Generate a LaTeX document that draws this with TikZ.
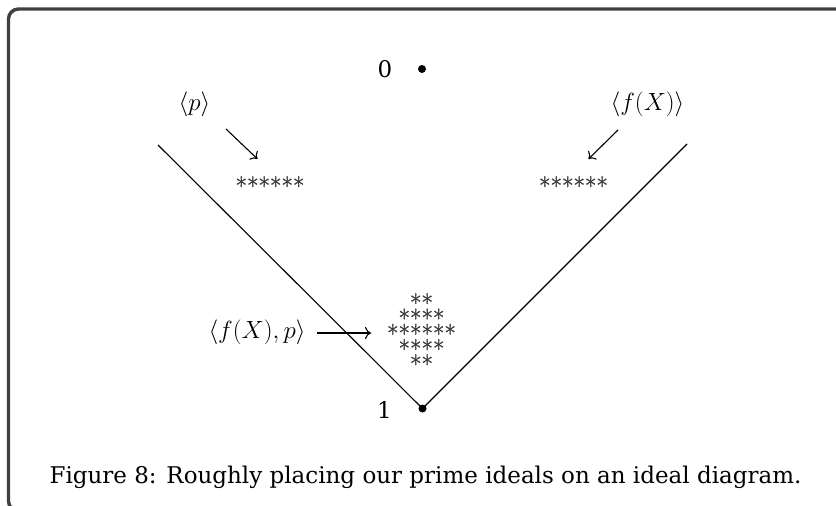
\documentclass[tikz,border=0pt]{standalone}
\usepackage{fontspec}
\setmainfont{DejaVu Serif}
\newfontfamily\starfont[FakeBold=1.2]{Latin Modern Roman}
\newcommand\tightstars{\starfont\fontsize{25}{15.3}\selectfont\lineskiplimit -50pt\relax\lineskip 0pt\relax}
\usetikzlibrary{arrows.meta}
\definecolor{framegray}{RGB}{64,64,64}
\definecolor{stargray}{RGB}{60,60,60}
\tikzset{
  thin line/.style={line width=1.1pt, black},
  pointer/.style={thin line, -{To[length=6pt,width=12pt]}},
  dot/.style={circle, fill=black, inner sep=0pt, minimum size=8pt},
  lbl/.style={inner sep=0pt, font=\fontsize{23}{28}\selectfont},
  mlbl/.style={inner sep=0pt, font=\fontsize{26}{30}\selectfont},
  stars/.style={inner sep=0pt, text=stargray, font=\tightstars},
}
\begin{document}
\begin{tikzpicture}[x=1pt,y=-1pt]
\useasboundingbox (0,0) rectangle (836,506);
% frame
\begin{scope}
\clip (0,0) rectangle (836,506);
\draw[line width=3.4pt, framegray, rounded corners=10pt] (836,9) -- (8.5,9) -- (8.5,511) -- (40,511);
\end{scope}
% points
\node[dot] (zero) at (422,69) {};
\node[dot] (one) at (422.5,408.5) {};
\node[lbl, anchor=base] (zlab) at (385,77.5) {0};
\node[lbl, anchor=base] (olab) at (384.5,418.5) {1};
% V lines
\coordinate (ltop) at (158,145);
\coordinate (rtop) at (687,144);
\draw[thin line] (ltop) -- (one.center) -- (rtop);
% labels
\node[mlbl] (p) at (194.5,104) {$\langle p\rangle$};
\node[mlbl] (fx) at (647.5,104) {$\langle f(X)\rangle$};
\node[mlbl] (fxp) at (257,332) {$\langle f(X),p\rangle$};
% star clusters
\node[stars, anchor=base] (sp) at (270,195) {******};
\node[stars, anchor=base] (sf) at (573.5,195) {******};
\node[stars, align=center, anchor=center] (cluster) at (421.5,333.2) {**\\****\\******\\****\\**};
% arrows
\coordinate (pa) at (226,129);
\coordinate (pb) at (257.5,159);
\draw[pointer] (pa) -- (pb);
\coordinate (fa) at (618,130);
\coordinate (fb) at (588.5,159);
\draw[pointer] (fa) -- (fb);
\coordinate (ga) at (317,333);
\coordinate (gb) at (371,333);
\draw[pointer] (ga) -- (gb);
% caption
\node[lbl, anchor=base] (cap) at (425.5,483) {Figure 8: Roughly placing our prime ideals on an ideal diagram.};
\end{tikzpicture}
\end{document}
